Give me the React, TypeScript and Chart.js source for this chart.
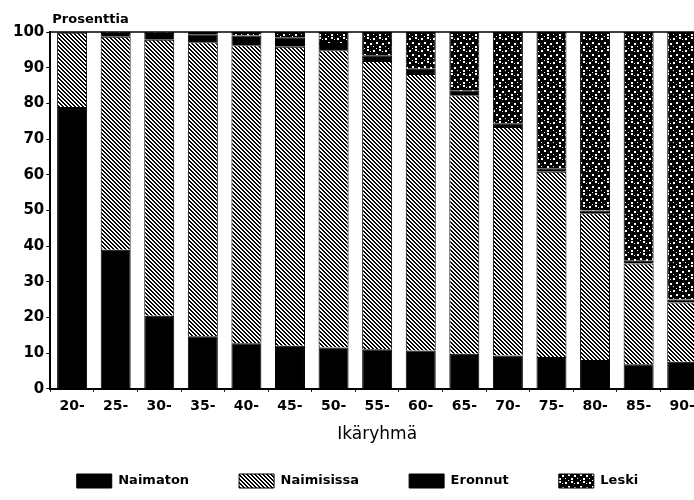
import React, { useEffect, useRef } from "react";
import { Chart, registerables } from "chart.js";

Chart.register(...registerables);

const categories = ["20-", "25-", "30-", "35-", "40-", "45-", "50-", "55-", "60-", "65-", "70-", "75-", "80-", "85-", "90-"];
const naimaton = [79, 39, 20.5, 14.7, 12.8, 12.1, 11.6, 11.1, 10.7, 9.8, 9.3, 8.9, 8.1, 6.9, 7.6];
const naimisissa = [20.8, 59.7, 77.3, 82.4, 83.5, 83.8, 83.3, 80.8, 77.5, 72.5, 64.1, 51.9, 41.1, 28.2, 16.6];
const eronnut = [0.2, 1.0, 1.9, 2.3, 2.7, 2.6, 2.0, 1.6, 1.5, 1.2, 1.0, 1.0, 0.8, 0.8, 0.8];
const leski = [0, 0.3, 0.3, 0.6, 1.0, 1.5, 3.1, 6.5, 10.3, 16.5, 25.6, 38.2, 50.0, 64.1, 75.0];
const seriesNames = ["Naimaton", "Naimisissa", "Eronnut", "Leski"];
const yTitle = "Prosenttia";
const xTitle = "Ikäryhmä";

function makeHatch(): CanvasPattern | string {
  const c = document.createElement("canvas");
  c.width = 4;
  c.height = 4;
  const g = c.getContext("2d");
  if (!g) return "#777";
  g.fillStyle = "#fff";
  g.fillRect(0, 0, 4, 4);
  g.fillStyle = "#000";
  for (let y = 0; y < 4; y++) {
    for (let x = 0; x < 4; x++) {
      if ((((x - y) % 4) + 4) % 4 < 2) g.fillRect(x, y, 1, 1);
    }
  }
  return g.createPattern(c, "repeat") || "#777";
}

function makeDots(): CanvasPattern | string {
  const c = document.createElement("canvas");
  c.width = 12;
  c.height = 12;
  const g = c.getContext("2d");
  if (!g) return "#333";
  g.fillStyle = "#000";
  g.fillRect(0, 0, 12, 12);
  g.fillStyle = "#fff";
  const dots: [number, number, number][] = [
    [1, 2, 2], [7, 1, 2], [4, 6, 2], [10, 7, 2], [1, 10, 1], [7, 10, 2], [10, 3, 1], [4, 0, 1],
  ];
  dots.forEach(([x, y, s]) => g.fillRect(x, y, s, s));
  return g.createPattern(c, "repeat") || "#333";
}

const frameLines = {
  id: "frameLines",
  afterDraw(chart: any) {
    const { ctx, chartArea } = chart;
    ctx.save();
    ctx.strokeStyle = "#000";
    ctx.lineWidth = 1.5;
    ctx.beginPath();
    ctx.moveTo(chartArea.left, chartArea.top);
    ctx.lineTo(chartArea.right, chartArea.top);
    ctx.stroke();
    ctx.fillStyle = "#000";
    ctx.font = "bold 13px 'DejaVu Sans'";
    ctx.textAlign = "left";
    ctx.textBaseline = "alphabetic";
    ctx.fillText(yTitle, chartArea.left + 2, 23);
    ctx.restore();
  },
};

export default function App() {
  const ref = useRef<HTMLCanvasElement | null>(null);
  useEffect(() => {
    if (!ref.current) return;
    const hatch = makeHatch();
    const dots = makeDots();
    const common = { borderColor: "#000", borderWidth: 1, barPercentage: 0.86, categoryPercentage: 0.8 };
    const chart = new Chart(ref.current, {
      type: "bar",
      data: {
        labels: categories,
        datasets: [
          { label: seriesNames[0], data: naimaton, backgroundColor: "#000", ...common },
          { label: seriesNames[1], data: naimisissa, backgroundColor: hatch as any, ...common },
          { label: seriesNames[2], data: eronnut, backgroundColor: "#000", ...common },
          { label: seriesNames[3], data: leski, backgroundColor: dots as any, ...common },
        ],
      },
      options: {
        animation: false,
        responsive: false,
        devicePixelRatio: 1,
        layout: { padding: { left: 11, right: 8, top: 32, bottom: 2 } },
        plugins: {
          tooltip: { enabled: false },
          title: { display: false },
          legend: {
            display: true,
            position: "bottom",
            labels: {
              boxWidth: 35,
              boxHeight: 14,
              padding: 50,
              color: "#000",
              font: { family: "'DejaVu Sans'", weight: "bold", size: 13 },
            },
          },
        },
        scales: {
          x: {
            stacked: true,
            grid: { display: true, drawOnChartArea: false, drawTicks: true, tickLength: 3, color: "#000" },
            border: { display: true, color: "#000", width: 2 },
            ticks: { color: "#000", padding: 6, font: { family: "'DejaVu Sans'", weight: "bold", size: 14 } },
            title: {
              display: true,
              text: xTitle,
              color: "#000",
              padding: { top: 4, bottom: -21 },
              font: { family: "'DejaVu Sans'", size: 17 },
            },
          },
          y: {
            stacked: true,
            min: 0,
            max: 100,
            ticks: { stepSize: 10, color: "#000", padding: 2, font: { family: "'DejaVu Sans'", weight: "bold", size: 15 } },
            grid: { display: true, drawOnChartArea: false, drawTicks: true, tickLength: 4, color: "#000" },
            border: { display: true, color: "#000", width: 2 },
          },
        },
      },
      plugins: [frameLines],
    });
    return () => chart.destroy();
  }, []);
  return (
    <div style={{ position: "fixed", left: 0, top: 0, width: 694, height: 500, overflow: "hidden", background: "#fff" }}>
      <canvas ref={ref} width={712} height={500} style={{ display: "block", width: 712, height: 500 }} />
    </div>
  );
}
